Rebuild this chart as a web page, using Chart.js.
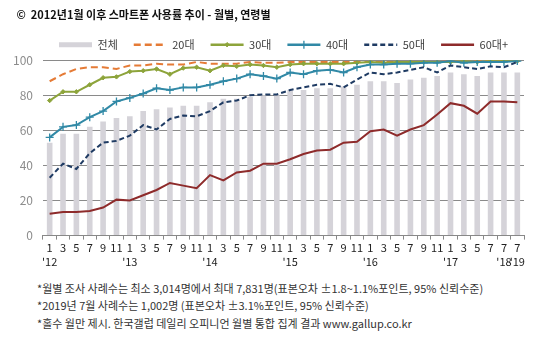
<!DOCTYPE html>
<html>
<head>
<meta charset="utf-8">
<script src="https://cdn.jsdelivr.net/npm/chart.js@4.4.1/dist/chart.umd.min.js"></script>
<style>
body { margin: 0; background: #fff; font-family: "Noto Sans CJK KR", sans-serif; }
#wrap { position: relative; width: 536px; height: 339px; }
#canvas { position: absolute; left: 0; top: 0; }
.notes { position: absolute; left: 37px; top: 280px; font-size: 11px; line-height: 17.3px; color: #333; white-space: nowrap; }
</style>
</head>
<body>
<div id="wrap">
  <canvas id="canvas" width="536" height="270"></canvas>
  <div class="notes">
    *월별 조사 사례수는 최소 3,014명에서 최대 7,831명(표본오차 ±1.8~1.1%포인트, 95% 신뢰수준)<br>
    *2019년 7월 사례수는 1,002명 (표본오차 ±3.1%포인트, 95% 신뢰수준)<br>
    *홀수 월만 제시. 한국갤럽 데일리 오피니언 월별 통합 집계 결과 www.gallup.co.kr
  </div>
</div>
<script>
var months = ['1','3','5','7','9','11', '1','3','5','7','9','11', '1','3','5','7','9','11',
              '1','3','5','7','9','11', '1','3','5','7','9','11', '1','3','5','7', '7', '7'];
var years = ["'12","","","","","", "'13","","","","","", "'14","","","","","",
             "'15","","","","","", "'16","","","","","", "'17","","","", "'18", "'19"];

var total = [53,58,58,62,65,67, 68,71,72,73,74,74, 76,78,78,79,80,80,
             83,83,84,84,85,86, 88,88,87,89,90,91, 93,92,91,93, 93, 93];
var age20 = [88,92,95,96,96,95, 97,97,98,97.5,97.5,99, 98,98,98,99,98.5,98.5,
             99,99,99,99,99,99, 99,99,99,99,99,99, 99.5,99,99.5,99.5, 99.5, 99.5];
var age30 = [77,82,82,86,90,90.5, 93.5,94,95,92,95.5,96, 94,97,96.5,97.5,97,96,
             97.5,98,98,98,98,98.5, 99,98.5,99,99,99,99, 99,99.5,99,99.5, 99.5, 99.5];
var age40 = [56,62,63,67.5,71,76.5, 78.5,81,84,83,84.5,84.5, 86,88,89.5,92,91,89.5,
             93,92,94,94.5,93,96, 97.5,97.5,98,98,98.5,98.5, 99.5,98.5,99,99, 99, 99.5];
var age50 = [33,41,38,47,53,54, 57,63,60.5,66.5,68.5,68, 71,76,77,80,80.5,80.5,
             83,84.5,86,86.5,84.5,89, 93,92,93,94.5,96,93, 97,96,95,96.5, 96, 99];
var age60 = [12.5,13.5,13.5,14,16,20.5, 20,23,26,30,28.5,27, 34.5,31.5,36,37,41,41,
             43.5,46.5,48.5,49,53,53.5, 59.5,60.5,57,60.5,63,69, 75.5,74,69.5,76.5, 76.5, 76];

var labels = months.map(function(m, i) { return [m, years[i]]; });

var fontFamily = '"Noto Sans CJK KR", sans-serif';

// small markers in the middle of legend lines
var legendMarkers = {
    id: 'legendMarkers',
    afterDraw: function(chart) {
        var legend = chart.legend;
        if (!legend || !legend.legendHitBoxes) return;
        var ctx = chart.ctx;
        legend.legendItems.forEach(function(item, i) {
            var ds = chart.data.datasets[item.datasetIndex];
            var box = legend.legendHitBoxes[i];
            if (ds.type !== 'line' || !ds.pointRadius) return;
            ctx.save();
            ctx.fillStyle = ds.pointBackgroundColor || ds.borderColor;
            ctx.strokeStyle = ds.borderColor;
            ctx.lineWidth = ds.pointBorderWidth || 1;
            ctx.setLineDash([]);
            Chart.helpers.drawPoint(ctx, {
                pointStyle: ds.pointStyle,
                radius: ds.pointRadius,
                borderWidth: ds.pointBorderWidth || 1,
                rotation: 0
            }, box.left + 16.5, box.top + box.height / 2);
            ctx.restore();
        });
    }
};

var lineBase = { type: 'line', fill: false, tension: 0, borderWidth: 2, pointRadius: 0, pointHoverRadius: 0 };

var myChart = {
    type: 'bar',
    data: {
        labels: labels,
        datasets: [
            { type: 'bar', label: '전체', data: total, backgroundColor: 'rgb(213,211,217)',
              barPercentage: 0.42, categoryPercentage: 1, order: 10 },
            Object.assign({}, lineBase, { label: '20대', data: age20, borderColor: '#e57b36',
              borderDash: [7, 4], order: 5 }),
            Object.assign({}, lineBase, { label: '30대', data: age30, borderColor: '#8da43b',
              pointStyle: 'rectRot', pointRadius: 2.2, pointBackgroundColor: '#8da43b',
              pointBorderWidth: 1, order: 4 }),
            Object.assign({}, lineBase, { label: '40대', data: age40, borderColor: '#3189a6',
              pointStyle: 'cross', pointRadius: 4, pointBorderWidth: 1.3, order: 3 }),
            Object.assign({}, lineBase, { label: '50대', data: age50, borderColor: '#1f3b63',
              borderDash: [5, 3], order: 2 }),
            Object.assign({}, lineBase, { label: '60대+', data: age60, borderColor: '#8e2b2b',
              order: 1 })
        ]
    },
    options: {
        responsive: false,
        animation: false,
        layout: { padding: { left: 3, right: 12, top: 0, bottom: 0 } },
        plugins: {
            title: {
                display: true,
                align: 'start',
                text: '\u2003 ©  2012년1월 이후 스마트폰 사용률 추이 - 월별, 연령별',
                color: '#111',
                font: { family: fontFamily, size: 11, weight: 'bold' },
                padding: { top: 8, bottom: 2 }
            },
            legend: {
                display: true,
                position: 'top',
                align: 'end',
                labels: {
                    usePointStyle: true,
                    pointStyleWidth: 33,
                    boxHeight: 5,
                    padding: 16,
                    color: '#404040',
                    font: { family: fontFamily, size: 11 },
                    sort: function(a, b) { return a.datasetIndex - b.datasetIndex; },
                    generateLabels: function(chart) {
                        var items = Chart.defaults.plugins.legend.labels.generateLabels(chart);
                        items.forEach(function(it) {
                            var ds = chart.data.datasets[it.datasetIndex];
                            if (ds.type === 'bar') {
                                it.pointStyle = 'rect';
                                it.lineWidth = 0;
                            } else {
                                it.pointStyle = 'line';
                                it.lineWidth = 2.5;
                                it.strokeStyle = ds.borderColor;
                                it.lineDash = ds.borderDash || [];
                            }
                        });
                        return items;
                    }
                }
            },
            tooltip: { enabled: false }
        },
        scales: {
            x: {
                offset: true,
                grid: { display: true, drawOnChartArea: false, drawTicks: true, tickLength: 4,
                        offset: true, color: '#888' },
                border: { display: true, color: '#888' },
                ticks: { autoSkip: false, maxRotation: 0, minRotation: 0, padding: 2,
                         color: '#222', font: { family: fontFamily, size: 11 } }
            },
            y: {
                min: 0, max: 100,
                grid: { color: '#8a8a8a', drawTicks: false },
                border: { display: false },
                ticks: { stepSize: 20, padding: 10, color: '#8c8c8c',
                         font: { family: fontFamily, size: 12 } }
            }
        }
    },
    plugins: [legendMarkers]
};

window.onload = function() {
    var ctx = document.getElementById('canvas').getContext('2d');
    new Chart(ctx, myChart);
};
</script>
</body>
</html>
